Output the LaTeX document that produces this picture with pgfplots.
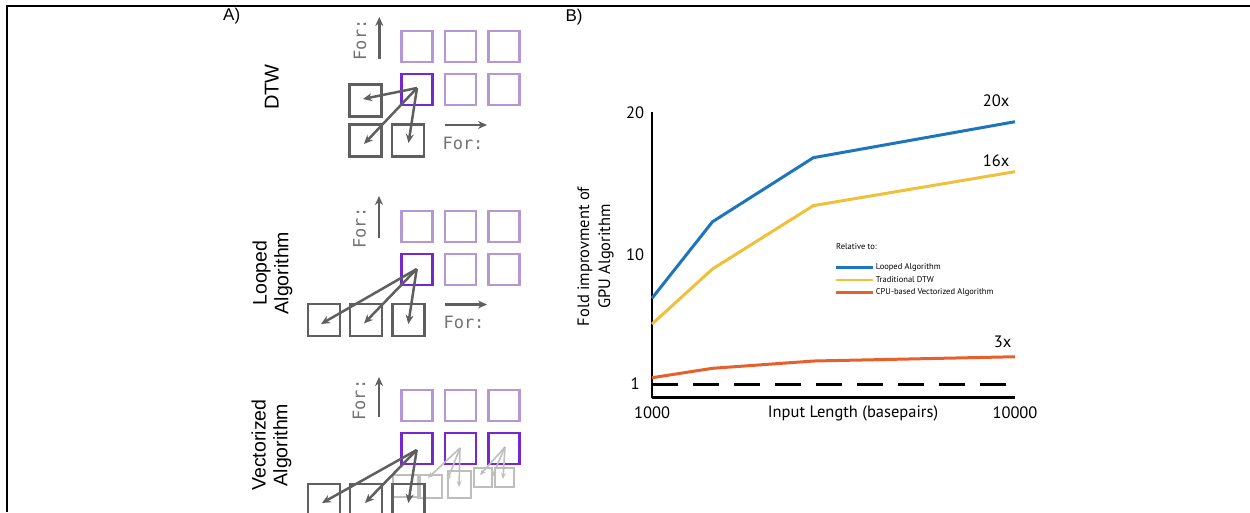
\documentclass[border=0pt]{standalone}
\usepackage{fontspec}
\setmainfont{Liberation Sans}
\newfontfamily\chartfont{PT Sans}
\newfontfamily\monofont{DejaVu Sans Mono}
\usepackage{pgfplots}
\pgfplotsset{compat=1.18}
\usetikzlibrary{arrows.meta}
\definecolor{lpurple}{RGB}{181,150,215}
\definecolor{dpurple}{RGB}{118,40,208}
\definecolor{sqgray}{RGB}{95,95,95}
\definecolor{fgray}{RGB}{190,190,190}
\definecolor{txtgray}{RGB}{115,115,115}
\definecolor{cblue}{RGB}{30,117,190}
\definecolor{cyellow}{RGB}{240,192,60}
\definecolor{corange}{RGB}{230,95,45}
\newcommand{\sq}[4]{\draw[#1] (#2,#3) rectangle ++(#4,#4);}
\begin{document}
\begin{tikzpicture}[x=1pt,y=1pt]
\useasboundingbox (0,0) rectangle (1250,512);
% ---------- panel A drawings (pixel coordinates, y downward) ----------
\begin{scope}[shift={(0,512)}, yscale=-1]
\draw[line width=2pt] (7.3,512) -- (7.3,5.7) -- (1250,5.7);
\tikzset{lp/.style={lpurple, line width=2.6pt}, dp/.style={dpurple, line width=2.4pt},
  gs/.style={sqgray, line width=2.3pt}, ar/.style={sqgray, line width=2.5pt, -{Stealth[length=9pt,width=8pt]}},
  fs/.style={fgray, line width=1.7pt}, far/.style={fgray, line width=1.6pt, -{Stealth[length=6pt,width=5pt]}}}
% DTW
\sq{lp}{401.5}{31}{31}\sq{lp}{445}{31}{31}\sq{lp}{488.5}{31}{31}
\sq{dp}{401.5}{74}{31}\sq{lp}{445}{74}{31}\sq{lp}{488.5}{74}{31}
\sq{gs}{349.5}{84.5}{32}\sq{gs}{349.5}{124.5}{32}\sq{gs}{392}{124.5}{32}
\draw[ar] (379.3,59) -- (379.3,17);
\draw[ar] (445,125) -- (487,125);
\draw[ar] (417,88) -- (363,99);
\draw[ar] (417,88) -- (364,144);
\draw[ar] (417,88) -- (408.5,143);
% Looped
\sq{lp}{401.5}{211}{31}\sq{lp}{445}{211}{31}\sq{lp}{488.5}{211}{31}
\sq{dp}{401.5}{254}{31}\sq{lp}{445}{254}{31}\sq{lp}{488.5}{254}{31}
\sq{gs}{308}{304}{32}\sq{gs}{350}{304}{32}\sq{gs}{392.5}{304}{32}
\draw[ar] (379,238) -- (379,196);
\draw[ar] (445,304.5) -- (487,304.5);
\draw[ar] (416.7,269) -- (321,324);
\draw[ar] (416.7,269) -- (364,323.5);
\draw[ar] (416.7,269) -- (408.3,324);
% Vectorized
\sq{lp}{401.5}{390}{31}\sq{lp}{445}{390}{31}\sq{lp}{488.5}{390}{31}
\sq{dp}{401.5}{433}{31}\sq{dp}{445}{433}{31}\sq{dp}{488.5}{433}{31}
\draw[fs] (393,475) rectangle (420,497);
\draw[fs] (418,475) rectangle (442,498);
\draw[fs] (448,471) rectangle (471,498);
\draw[fs] (474,468) rectangle (492,487);
\draw[fs] (495,468) rectangle (514,487);
\draw[far] (460,448) -- (428,478);
\draw[far] (460,448) -- (447,481);
\draw[far] (460,448) -- (459,487);
\draw[far] (505,447) -- (480,475);
\draw[far] (505,447) -- (492,477);
\draw[far] (505,447) -- (503,479);
\sq{gs}{308}{484}{32}\sq{gs}{350}{484}{32}\sq{gs}{392.5}{484}{32}
\draw[ar] (379,417) -- (379,377);
\draw[ar] (416.7,450) -- (322,503);
\draw[ar] (416.7,450) -- (365,503);
\draw[ar] (416.7,450) -- (408.3,503);
\end{scope}
% ---------- panel A text ----------
\node[font=\fontsize{17}{17}\selectfont] at (231.7,512-16) {A)};
\node[font=\fontsize{17}{17}\selectfont] at (574,512-17) {B)};
\node[font=\fontsize{20}{20}\selectfont, rotate=90] at (271.7,512-87) {DTW};
\node[font=\fontsize{19.5}{21.7}\selectfont, rotate=90, align=center] at (272.5,512-273) {Looped\\Algorithm};
\node[font=\fontsize{19.5}{21.7}\selectfont, rotate=90, align=center] at (271.5,512-445) {Vectorized\\Algorithm};
\tikzset{fortxt/.style={font=\monofont\fontsize{17}{17}\selectfont, text=txtgray, inner sep=0pt}}
\node[fortxt, rotate=90] at (360,512-40) {For:};
\node[fortxt] at (463,512-143) {For:};
\node[fortxt, rotate=90] at (359.5,512-228) {For:};
\node[fortxt] at (464,512-322.5) {For:};
\node[fortxt, rotate=90] at (359,512-400) {For:};
% ---------- panel B text ----------
\tikzset{ct/.style={font=\chartfont\fontsize{16.5}{21}\selectfont}}
\node[ct, rotate=90, align=center] at (595.5,512-256.5) {Fold improvment of\\GPU Algorithm};
\node[ct] at (853,512-413) {Input Length (basepairs)};
\node[ct] at (996,512-101) {20x};
\node[ct] at (996,512-160.7) {16x};
\node[ct] at (1002.5,512-341.7) {3x};
\node[font=\chartfont\fontsize{8.5}{9}\selectfont, anchor=west, inner sep=0pt] at (836,512-246.7) {Relative to:};
% ---------- chart ----------
\begin{axis}[
  at={(652pt,114.3pt)}, anchor=south west,
  scale only axis, width=363pt, height=285.4pt,
  xmin=1000, xmax=10000, ymin=0, ymax=20,
  axis lines=left, axis line style={-, line width=2.5pt, black},
  xtick={1000,10000}, ytick={1,10,20},
  xticklabels={1000,10000}, yticklabels={1,10,20},
  scaled x ticks=false, scaled y ticks=false,
  major tick length=0pt,
  tick label style={font=\chartfont\fontsize{16.5}{16.5}\selectfont},
  xticklabel style={anchor=center, yshift=-15.5pt},
  yticklabel style={anchor=center, xshift=-17pt},
  clip=false,
  legend style={at={(0.504,0.472)}, anchor=north west, draw=none, fill=none,
    inner sep=0pt, font=\chartfont\fontsize{8.5}{9}\selectfont, row sep=3.7pt,
    nodes={text height=6.5pt, text depth=2.3pt, inner ysep=0pt, inner xsep=1.2pt}},
  legend cell align=left,
  legend image code/.code={\draw[#1, line width=2.5pt] (0pt,0pt) -- (37pt,0pt);},
]
\addplot[black, line width=3pt, dash pattern=on 26pt off 15pt, forget plot] coordinates {(1000,0.95) (10000,0.95)};
\addplot[cblue, line width=3pt] coordinates {(1000,6.97) (2500,12.33) (5000,16.82) (10000,19.34)};
\addlegendentry{Looped Algorithm}
\addplot[cyellow, line width=3pt] coordinates {(1000,5.16) (2500,9.02) (5000,13.46) (10000,15.84)};
\addlegendentry{Traditional DTW}
\addplot[corange, line width=3pt] coordinates {(1000,1.40) (2500,2.06) (5000,2.57) (10000,2.87)};
\addlegendentry{CPU-based Vectorized Algorithm}
\end{axis}
\end{tikzpicture}
\end{document}
